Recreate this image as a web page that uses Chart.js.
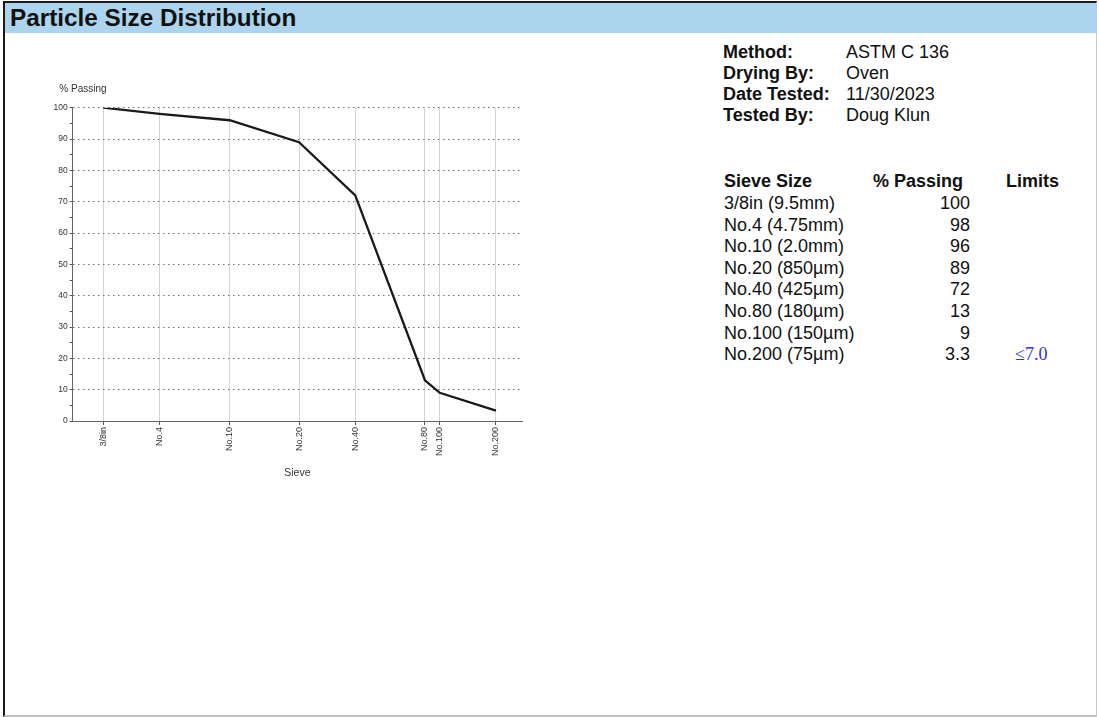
<!DOCTYPE html>
<html>
<head>
<meta charset="utf-8">
<title>Particle Size Distribution</title>
<script src="https://cdn.jsdelivr.net/npm/chart.js@4.4.0/dist/chart.umd.min.js"></script>
<style>
    body { margin: 0; width: 1099px; height: 717px; overflow: hidden; background: #fff; position: relative; font-family: "Liberation Sans", Arial, sans-serif; color: #111; }
    #frame { position: absolute; left: 3px; top: 1px; width: 1091px; height: 712px; border-top: 2px solid #1a1a1a; border-left: 2px solid #1a1a1a; border-right: 1px solid #c8c8c8; border-bottom: 2px solid #c0c0c0; }
    #band { position: absolute; left: 5px; top: 3px; width: 1091px; height: 30px; background: #acd4ef; }
    #title { position: absolute; left: 10px; top: 6px; font-size: 24.3px; line-height: 24px; font-weight: bold; color: #111; white-space: nowrap; }
    #chartBox { position: absolute; left: 20px; top: 60px; width: 540px; height: 440px; }
    .t { position: absolute; font-size: 18px; line-height: 18px; white-space: nowrap; }
    .b { font-weight: bold; }
    .r { text-align: right; }
    .lim { font-family: "Liberation Serif", "Times New Roman", serif; color: #3232c8; }
</style>
</head>
<body>
<div id="frame"></div>
<div id="band"></div>
<div id="title">Particle Size Distribution</div>
<div id="chartBox"><canvas id="myChart" width="540" height="440"></canvas></div>
<div id="info"></div>
<script>
// sieve openings in mm, used for the log x axis
const sieveMm = [9.5, 4.75, 2.0, 0.85, 0.425, 0.18, 0.15, 0.075];
const tickLabels = ["3/8in", "No.4", "No.10", "No.20", "No.40", "No.80", "No.100", "No.200"];
const passing = [100, 98, 96, 89, 72, 13, 9, 3.3];

// table on the right
const sieveNames = ["3/8in (9.5mm)", "No.4 (4.75mm)", "No.10 (2.0mm)", "No.20 (850µm)", "No.40 (425µm)", "No.80 (180µm)", "No.100 (150µm)", "No.200 (75µm)"];
const passingText = ["100", "98", "96", "89", "72", "13", "9", "3.3"];
const limitsText = ["", "", "", "", "", "", "", "≤7.0"];

const metaLabels = ["Method:", "Drying By:", "Date Tested:", "Tested By:"];
const metaValues = ["ASTM C 136", "Oven", "11/30/2023", "Doug Klun"];

function addText(txt, cls, left, top, rightEdge) {
    var d = document.createElement("div");
    d.className = "t " + cls;
    d.textContent = txt;
    d.style.top = top + "px";
    if (rightEdge) {
        d.style.right = (1099 - rightEdge) + "px";
    } else {
        d.style.left = left + "px";
    }
    document.getElementById("info").appendChild(d);
}

for (let i = 0; i < metaLabels.length; i++) {
    addText(metaLabels[i], "b", 723, 43.1 + i * 21.13);
    addText(metaValues[i], "", 846, 43.1 + i * 21.13);
}

addText("Sieve Size", "b", 724, 172.3);
addText("% Passing", "b", 873, 172.3);
addText("Limits", "b", 1006, 172.3);
for (let i = 0; i < sieveNames.length; i++) {
    let top = 172.3 + (i + 1) * 21.6;
    addText(sieveNames[i], "", 724, top);
    addText(passingText[i], "r", 0, top, 970);
    if (limitsText[i] != "") addText(limitsText[i], "lim", 1015, top);
}

const yTitle = {
    id: "yTitle",
    afterDraw(chart) {
        const { ctx, chartArea } = chart;
        ctx.save();
        ctx.font = '10px "Liberation Sans", Arial, sans-serif';
        ctx.fillStyle = "#333";
        ctx.textBaseline = "middle";
        ctx.fillText("% Passing", chartArea.left - 13.4, chartArea.top - 18.7);
        ctx.restore();
    }
};

const ctx = document.getElementById("myChart");
new Chart(ctx, {
    type: "line",
    data: {
        datasets: [{
            data: sieveMm.map((x, i) => ({ x: x, y: passing[i] })),
            borderColor: "#1a1a1a",
            borderWidth: 2.3,
            pointRadius: 0,
            tension: 0,
            fill: false
        }]
    },
    options: {
        responsive: false,
        animation: false,
        layout: { padding: { left: 20, right: 38, top: 47.7, bottom: 17 } },
        plugins: {
            legend: { display: false },
            tooltip: { enabled: false }
        },
        scales: {
            x: {
                type: "logarithmic",
                reverse: true,
                min: 0.0544,
                max: 13.85,
                afterBuildTicks: (scale) => {
                    scale.ticks = sieveMm.map(v => ({ value: v }));
                },
                afterFit: (scale) => { scale.height = 62; },
                ticks: {
                    autoSkip: false,
                    minRotation: 90,
                    maxRotation: 90,
                    padding: 2,
                    color: "#333",
                    font: { family: "Liberation Sans", size: 9 },
                    callback: (v, i) => tickLabels[i]
                },
                grid: { color: "#d4d4d4", lineWidth: 1, tickColor: "#555", tickLength: 4 },
                border: { color: "#666", width: 1 },
                title: {
                    display: true,
                    text: "Sieve",
                    color: "#333",
                    font: { family: "Liberation Sans", size: 10.5 },
                    padding: { top: 0, bottom: 4 }
                }
            },
            y: {
                min: 0,
                max: 100,
                afterFit: (scale) => { scale.width = 32.7; },
                ticks: {
                    stepSize: 5,
                    padding: 2,
                    color: "#333",
                    font: { family: "Liberation Sans", size: 8.5 },
                    callback: (v) => (v % 10 === 0 ? v : "")
                },
                grid: {
                    color: (c) => (c.tick && c.tick.value % 10 === 0 && c.tick.value > 0) ? "#6f6f6f" : "rgba(0,0,0,0)",
                    tickColor: "#555",
                    tickLength: 3
                },
                border: { color: "#666", width: 1, dash: [1.5, 3.5] }
            }
        }
    },
    plugins: [yTitle]
});
</script>
</body>
</html>
